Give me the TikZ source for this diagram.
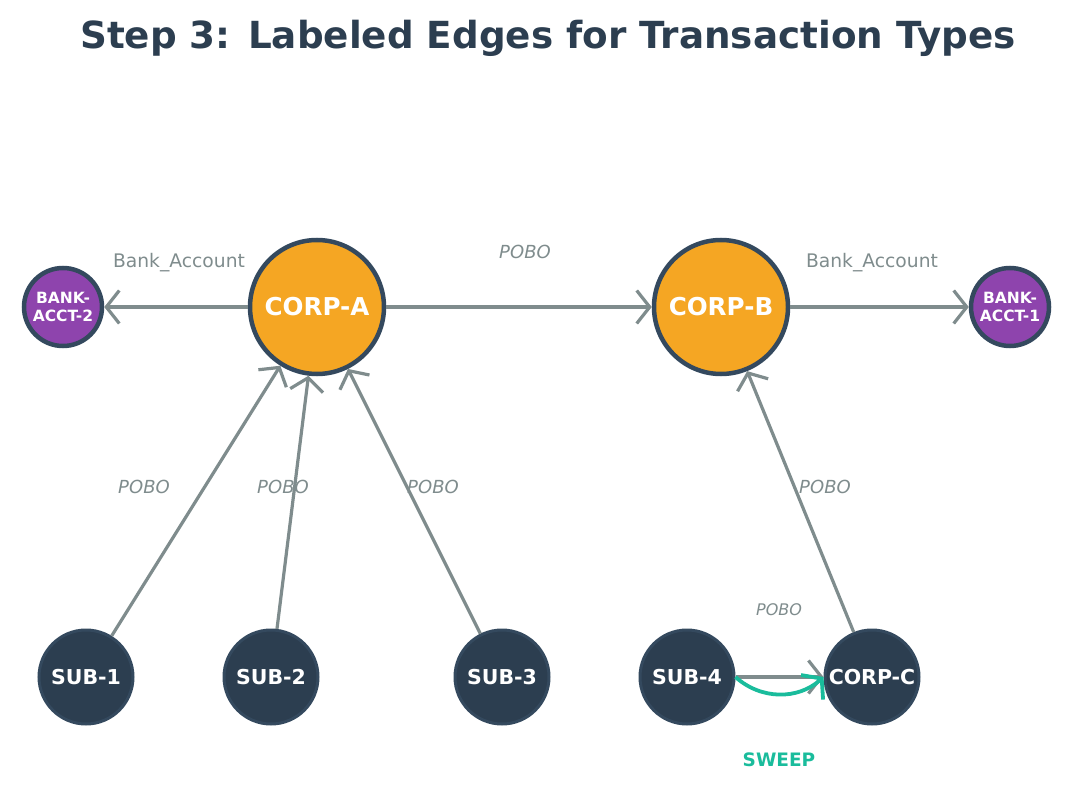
\documentclass[tikz,border=0pt]{standalone}
\usepackage{fontspec}
\setmainfont{DejaVu Sans}
\usetikzlibrary{arrows.meta,positioning}

\definecolor{navy}{HTML}{2C3E50}
\definecolor{ring}{HTML}{34495E}
\definecolor{corp}{HTML}{F5A623}
\definecolor{bank}{HTML}{8E44AD}
\definecolor{edgegray}{HTML}{7F8C8D}
\definecolor{sweep}{HTML}{1ABC9C}

\begin{document}
\begin{tikzpicture}[
    x=1pt, y=-1pt,
    corpnode/.style={draw=ring, circle, line width=4.5pt, fill=corp, minimum size=134pt, inner sep=0pt, text=white, font=\fontsize{24.6}{28}\selectfont\bfseries},
    banknode/.style={draw=ring, circle, line width=4.5pt, fill=bank, minimum size=78pt, inner sep=0pt, align=center, text=white, font=\fontsize{15.5}{18}\selectfont\bfseries},
    subnode/.style={draw=ring, circle, line width=3pt, fill=navy, minimum size=94pt, inner sep=0pt, text=white, font=\fontsize{20.5}{24}\selectfont\bfseries},
    arr/.style={-{Straight Barb[length=13pt, width=33pt]}, line width=3.2pt, draw=edgegray},
    lbl/.style={text=edgegray, font=\fontsize{18.7}{22}\selectfont},
    pobo/.style={text=edgegray, font=\fontsize{18}{21}\selectfont\itshape}
]
\useasboundingbox (0,0) rectangle (1074,786);
\node[text=navy, font=\fontsize{37.3}{42}\selectfont\bfseries] (title) at (548,38) {Step 3: Labeled Edges for Transaction Types};

\node[corpnode] (corpA) at (317,307) {CORP-A};
\node[corpnode] (corpB) at (721,307) {CORP-B};
\node[banknode] (bank2) at (63,307) {BANK-\\ACCT-2};
\node[banknode] (bank1) at (1010,307) {BANK-\\ACCT-1};
\node[subnode] (sub1) at (86,677) {SUB-1};
\node[subnode] (sub2) at (271,677) {SUB-2};
\node[subnode] (sub3) at (502,677) {SUB-3};
\node[subnode] (sub4) at (687,677) {SUB-4};
\node[subnode] (corpC) at (872,677) {CORP-C};

\draw[arr] (corpA) -- (bank2);
\draw[arr] (corpA) -- (corpB);
\draw[arr] (corpB) -- (bank1);
\draw[arr] (sub1) -- (corpA);
\draw[arr] (sub2) -- (corpA);
\draw[arr] (sub3) -- (corpA);
\draw[arr] (corpC) -- (corpB);
\draw[arr] (sub4) -- (corpC);
\draw[arr, draw=sweep, line width=3.8pt] (sub4.east) to[bend right=42] (corpC.west);

% edge labels
\node[lbl] (lblBank2) at (179,263) {Bank\_Account};
\node[lbl] (lblBank1) at (872,263) {Bank\_Account};
\node[pobo] (lblAB) at (525,252) {POBO};
\node[pobo] (lblS1) at (144,487) {POBO};
\node[pobo] (lblS2) at (283,487) {POBO};
\node[pobo] (lblS3) at (433,487) {POBO};
\node[pobo] (lblCB) at (825,487) {POBO};
\node[pobo, font=\fontsize{16}{19}\selectfont\itshape] (lblS4) at (779,610) {POBO};
\node[text=sweep, font=\fontsize{18.5}{21}\selectfont\bfseries] (lblSweep) at (779,760) {SWEEP};
\end{tikzpicture}
\end{document}
